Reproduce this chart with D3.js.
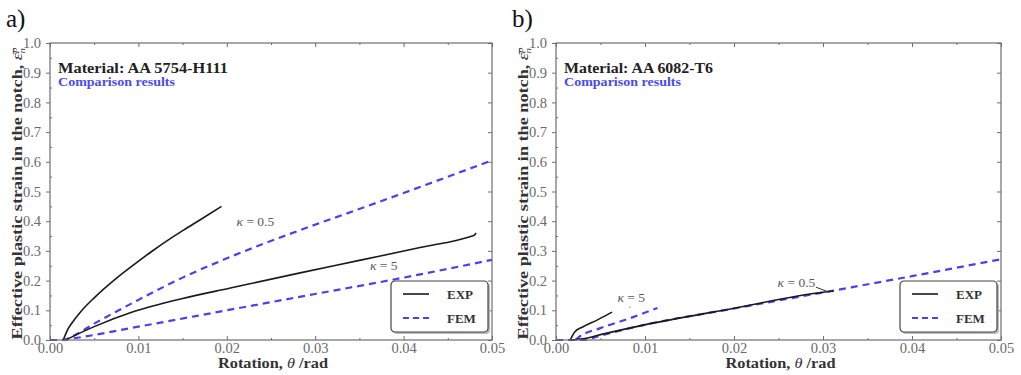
<!DOCTYPE html>
<html>
<head>
<meta charset="utf-8">
<script src="https://cdn.jsdelivr.net/npm/d3@7"></script>
<style>
  body { margin: 0; background: #fff; }
  svg { display: block; font-family: "Liberation Serif", serif; }
</style>
</head>
<body>
<div id="wrapper"></div>
<script>
// ---- data ----
const xTicks = [0, 0.01, 0.02, 0.03, 0.04, 0.05];
const xMinor = [0.005, 0.015, 0.025, 0.035, 0.045];
const yTicks = [0, 0.1, 0.2, 0.3, 0.4, 0.5, 0.6, 0.7, 0.8, 0.9, 1.0];
const yMinor = [0.05, 0.15, 0.25, 0.35, 0.45, 0.55, 0.65, 0.75, 0.85, 0.95];

// panel a) AA 5754-H111
const aExpK05X = [0.0015, 0.002, 0.0025, 0.0035, 0.005, 0.0076, 0.0095, 0.0115, 0.0139, 0.0151, 0.0170, 0.0194];
const aExpK05Y = [0, 0.035, 0.058, 0.096, 0.142, 0.21, 0.254, 0.298, 0.347, 0.37, 0.405, 0.45];
const aExpK5X = [0.0018, 0.003, 0.005, 0.0094, 0.015, 0.0204, 0.0283, 0.035, 0.042, 0.0475, 0.048, 0.0482];
const aExpK5Y = [0, 0.018, 0.045, 0.095, 0.14, 0.175, 0.226, 0.268, 0.312, 0.348, 0.353, 0.36];
const aFemK05X = [0, 0.0015, 0.0025, 0.005, 0.01, 0.015, 0.0196, 0.0283, 0.0347, 0.04, 0.05];
const aFemK05Y = [0, 0, 0.012, 0.055, 0.135, 0.21, 0.27, 0.37, 0.438, 0.495, 0.605];
const aFemK5X = [0, 0.0012, 0.0025, 0.01, 0.02, 0.03, 0.04, 0.05];
const aFemK5Y = [0, 0, 0.005, 0.045, 0.10, 0.155, 0.21, 0.27];

// panel b) AA 6082-T6
const bExpK5X = [0.0016, 0.0018, 0.0021, 0.003, 0.0046, 0.0063];
const bExpK5Y = [0, 0.012, 0.027, 0.044, 0.067, 0.094];
const bFemK5X = [0.0022, 0.0025, 0.005, 0.008, 0.0114];
const bFemK5Y = [0, 0.008, 0.04, 0.07, 0.108];
const bExpK05X = [0.0016, 0.003, 0.005, 0.0098, 0.02, 0.03, 0.0312];
const bExpK05Y = [0, 0.004, 0.018, 0.05, 0.107, 0.161, 0.165];
const bFemK05X = [0, 0.003, 0.005, 0.0098, 0.02, 0.03, 0.04, 0.05];
const bFemK05Y = [0, 0, 0.015, 0.05, 0.106, 0.16, 0.215, 0.272];

const toPoints = (xs, ys) => xs.map((x, i) => [x, ys[i]]);

const panels = [
  {
    tag: 'a)', material: 'Material: AA 5754-H111', titleWidth: 170, left: 50, right: 492,
    exp: [toPoints(aExpK05X, aExpK05Y), toPoints(aExpK5X, aExpK5Y)],
    fem: [toPoints(aFemK05X, aFemK05Y), toPoints(aFemK5X, aFemK5Y)],
    notes: [{ x: 0.0211, y: 0.384, k: '0.5' }, { x: 0.0362, y: 0.236, k: '5' }],
    leaders: []
  },
  {
    tag: 'b)', material: 'Material: AA 6082-T6', titleWidth: 149, left: 556, right: 1001,
    exp: [toPoints(bExpK5X, bExpK5Y), toPoints(bExpK05X, bExpK05Y)],
    fem: [toPoints(bFemK5X, bFemK5Y), toPoints(bFemK05X, bFemK05Y)],
    notes: [{ x: 0.0069, y: 0.128, k: '5' }, { x: 0.0249, y: 0.178, k: '0.5' }],
    leaders: [[[0.0292, 0.178], [0.0305, 0.163]], [[0.0083, 0.112], [0.0083, 0.109]]]
  }
];

/* CHART DIMENSIONS */
const dimensions = { width: 1021, height: 375, top: 43, bottom: 340 };

const wrapper = d3.select('#wrapper')
  .append('svg')
  .attr('width', dimensions.width)
  .attr('height', dimensions.height);

const blue = '#4a42e8';
const frameColor = '#6e6e6e';

panels.forEach(p => {
  const xScale = d3.scaleLinear().domain([0, 0.05]).range([p.left, p.right]);
  const yScale = d3.scaleLinear().domain([0, 1]).range([dimensions.bottom, dimensions.top]);
  const g = wrapper.append('g');

  // panel tag
  g.append('text')
    .attr('x', p.left - 44).attr('y', 27)
    .attr('font-size', 25).attr('fill', '#111')
    .text(p.tag);

  // axes
  const styleAxis = sel => {
    sel.select('.domain').remove();
    sel.selectAll('line').attr('stroke', frameColor);
    sel.selectAll('text').attr('fill', '#6a6a6a').attr('font-size', 14.5)
      .attr('font-family', '"Liberation Serif", serif');
  };

  g.append('g').attr('transform', `translate(0,${dimensions.bottom})`)
    .call(d3.axisBottom(xScale).tickValues(xTicks).tickFormat(d3.format('.2f')).tickSize(-4).tickPadding(3))
    .call(styleAxis);
  g.append('g').attr('transform', `translate(0,${dimensions.bottom})`)
    .call(d3.axisBottom(xScale).tickValues(xMinor).tickFormat('').tickSize(-2))
    .call(styleAxis);
  g.append('g').attr('transform', `translate(0,${dimensions.top})`)
    .call(d3.axisTop(xScale).tickValues(xTicks).tickFormat('').tickSize(-4))
    .call(styleAxis);
  g.append('g').attr('transform', `translate(0,${dimensions.top})`)
    .call(d3.axisTop(xScale).tickValues(xMinor).tickFormat('').tickSize(-2))
    .call(styleAxis);
  g.append('g').attr('transform', `translate(${p.left},0)`)
    .call(d3.axisLeft(yScale).tickValues(yTicks).tickFormat(d3.format('.1f')).tickSize(4).tickPadding(5))
    .call(styleAxis);
  g.append('g').attr('transform', `translate(${p.left},0)`)
    .call(d3.axisLeft(yScale).tickValues(yMinor).tickFormat('').tickSize(-2))
    .call(styleAxis);
  g.append('g').attr('transform', `translate(${p.right},0)`)
    .call(d3.axisRight(yScale).tickValues(yTicks).tickFormat('').tickSize(-4))
    .call(styleAxis);

  // lines
  const line = d3.line().x(d => xScale(d[0])).y(d => yScale(d[1])).curve(d3.curveMonotoneX);

  g.append('g').selectAll('path').data(p.fem).enter().append('path')
    .attr('d', line)
    .attr('fill', 'none').attr('stroke', blue).attr('stroke-width', 2.2)
    .attr('stroke-dasharray', '7,5');

  g.append('g').selectAll('path').data(p.exp).enter().append('path')
    .attr('d', line)
    .attr('fill', 'none').attr('stroke', '#1a1a1a').attr('stroke-width', 1.6);

  g.append('g').selectAll('path').data(p.leaders).enter().append('path')
    .attr('d', d3.line().x(d => xScale(d[0])).y(d => yScale(d[1])))
    .attr('fill', 'none').attr('stroke', '#333').attr('stroke-width', 1);

  // frame
  g.append('rect')
    .attr('x', p.left).attr('y', dimensions.top)
    .attr('width', p.right - p.left).attr('height', dimensions.bottom - dimensions.top)
    .attr('fill', 'none').attr('stroke', frameColor).attr('stroke-width', 1.2);

  // kappa notes
  const notes = g.append('g').attr('fill', '#5a5a5a').attr('font-size', 13.5);
  p.notes.forEach(n => {
    const t = notes.append('text').attr('x', xScale(n.x)).attr('y', yScale(n.y));
    t.append('tspan').attr('font-style', 'italic').text('κ');
    t.append('tspan').text(` = ${n.k}`);
  });

  // titles
  g.append('text')
    .attr('x', p.left + 8).attr('y', 73)
    .attr('font-size', 14.5).attr('font-weight', 'bold').attr('fill', '#222')
    .attr('textLength', p.titleWidth).attr('lengthAdjust', 'spacingAndGlyphs')
    .text(p.material);
  g.append('text')
    .attr('x', p.left + 8).attr('y', 86)
    .attr('font-size', 11.5).attr('font-weight', 'bold').attr('fill', '#4b4bf0')
    .attr('textLength', 117).attr('lengthAdjust', 'spacingAndGlyphs')
    .text('Comparison results');

  // axis labels
  const xl = g.append('text')
    .attr('x', (p.left + p.right) / 2 + 2).attr('y', 368)
    .attr('text-anchor', 'middle').attr('font-size', 15).attr('fill', '#333')
    .attr('textLength', 110).attr('lengthAdjust', 'spacingAndGlyphs');
  xl.append('tspan').attr('font-weight', 'bold').text('Rotation, ');
  xl.append('tspan').attr('font-style', 'italic').text('θ');
  xl.append('tspan').attr('font-weight', 'bold').text(' /rad');

  const yl = g.append('text')
    .attr('transform', `translate(${p.left - 28},${(dimensions.top + dimensions.bottom) / 2 + 2}) rotate(-90)`)
    .attr('text-anchor', 'middle').attr('font-size', 15).attr('fill', '#333')
    .attr('textLength', 292).attr('lengthAdjust', 'spacingAndGlyphs');
  yl.append('tspan').attr('font-weight', 'bold').text('Effective plastic strain in the notch, ');
  yl.append('tspan').attr('font-style', 'italic').text('ε̄');
  yl.append('tspan').attr('font-size', 9).attr('dy', -5).attr('font-style', 'italic').text('p');
  yl.append('tspan').attr('font-size', 9).attr('dx', -5).attr('dy', 8).attr('font-style', 'italic').text('n');

  // legend
  const lg = g.append('g').attr('transform', `translate(${p.right - 101},281)`);
  lg.append('rect').attr('x', 2).attr('y', 2).attr('width', 97).attr('height', 51).attr('rx', 4)
    .attr('fill', '#bbb');
  lg.append('rect').attr('width', 97).attr('height', 51).attr('rx', 4)
    .attr('fill', '#fff').attr('stroke', '#444').attr('stroke-width', 1.2);
  const legendItems = [{ name: 'EXP', color: '#1a1a1a', dash: null }, { name: 'FEM', color: blue, dash: '6,4' }];
  legendItems.forEach((d, i) => {
    const yy = 13 + i * 24;
    lg.append('line').attr('x1', 12).attr('x2', 38).attr('y1', yy).attr('y2', yy)
      .attr('stroke', d.color).attr('stroke-width', d.dash ? 2.2 : 1.6)
      .attr('stroke-dasharray', d.dash);
    lg.append('text').attr('x', 56).attr('y', yy + 5)
      .attr('font-size', 13).attr('font-weight', 'bold').attr('fill', '#333')
      .text(d.name);
  });
});
</script>
</body>
</html>
